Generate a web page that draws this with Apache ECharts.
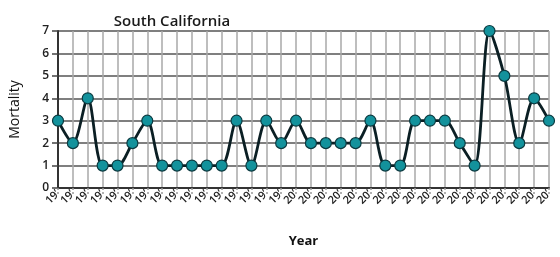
<!DOCTYPE html>
<html>
<head>
<meta charset="utf-8">
<script src="https://cdn.jsdelivr.net/npm/echarts@6/dist/echarts.min.js"></script>
<style>html,body{margin:0;padding:0;background:#fff}#c{width:560px;height:257px}</style>
</head>
<body>
<div id="c"></div>
<script>
var titleText = 'South California';
var xName = 'Year';
var yName = 'Mortality';
var years = ['1984','1985','1986','1987','1988','1989','1990','1991','1992','1993','1994','1995','1996','1997','1998','1999',
             '2000','2001','2002','2003','2004','2005','2006','2007','2008','2009','2010','2011','2012','2013','2014','2015','2016','2017'];
var mortality = [3,2,4,1,1,2,3,1,1,1,1,1,3,1,3,2,3,2,2,2,2,3,1,1,3,3,3,2,1,7,5,2,4,3];
var yTicks = [0,1,2,3,4,5,6,7];

var chart = echarts.init(document.getElementById('c'));
chart.setOption({
  animation: false,
  backgroundColor: '#fff',
  title: {
    text: titleText, left: 167, top: 9, textAlign: 'center',
    textStyle: {fontFamily: 'Open Sans', fontSize: 15, fontWeight: 600, color: '#1a1a1a'}
  },
  grid: {left: 51, right: 11, top: 31, bottom: 69},
  xAxis: {
    type: 'category', data: years, boundaryGap: false,
    name: xName, nameLocation: 'middle', nameGap: 47,
    nameTextStyle: {fontFamily: 'Open Sans', fontSize: 13, fontWeight: 'bold', color: '#111'},
    axisLine: {lineStyle: {color: '#333', width: 2}},
    axisTick: {show: true, interval: 0, length: 6, lineStyle: {color: '#999', width: 1.5, type: [2, 2]}},
    axisLabel: {interval: 0, rotate: 45, margin: 4, fontFamily: 'Open Sans', fontSize: 11, fontWeight: 600, color: '#222',
      formatter: function (v) { return v.slice(0, 2) + '\u2019'; }},
    splitLine: {show: true, interval: 0, lineStyle: {color: '#a8a8a8', width: 1.5}}
  },
  yAxis: {
    type: 'value', min: 0, max: 7, interval: 1,
    name: yName, nameLocation: 'middle', nameGap: 36,
    nameTextStyle: {fontFamily: 'Open Sans', fontSize: 14, color: '#111'},
    axisLine: {show: true, lineStyle: {color: '#333', width: 2}},
    axisTick: {show: true, length: 6, lineStyle: {color: '#444', width: 1.5}},
    axisLabel: {margin: 9, fontFamily: 'Open Sans', fontSize: 12, fontWeight: 600, color: '#222',
      formatter: function (v) { return yTicks.indexOf(v) >= 0 ? String(v) : ''; }},
    splitLine: {show: true, lineStyle: {color: '#555', width: 1.5}}
  },
  series: [{
    type: 'line', data: mortality, smooth: 0.3,
    symbol: 'circle', symbolSize: 11, showSymbol: true, showAllSymbol: true,
    lineStyle: {color: '#0b1f24', width: 2.8},
    itemStyle: {color: '#13929c', borderColor: '#0b3a40', borderWidth: 1.2},
    z: 5
  }]
});
</script>
</body>
</html>
